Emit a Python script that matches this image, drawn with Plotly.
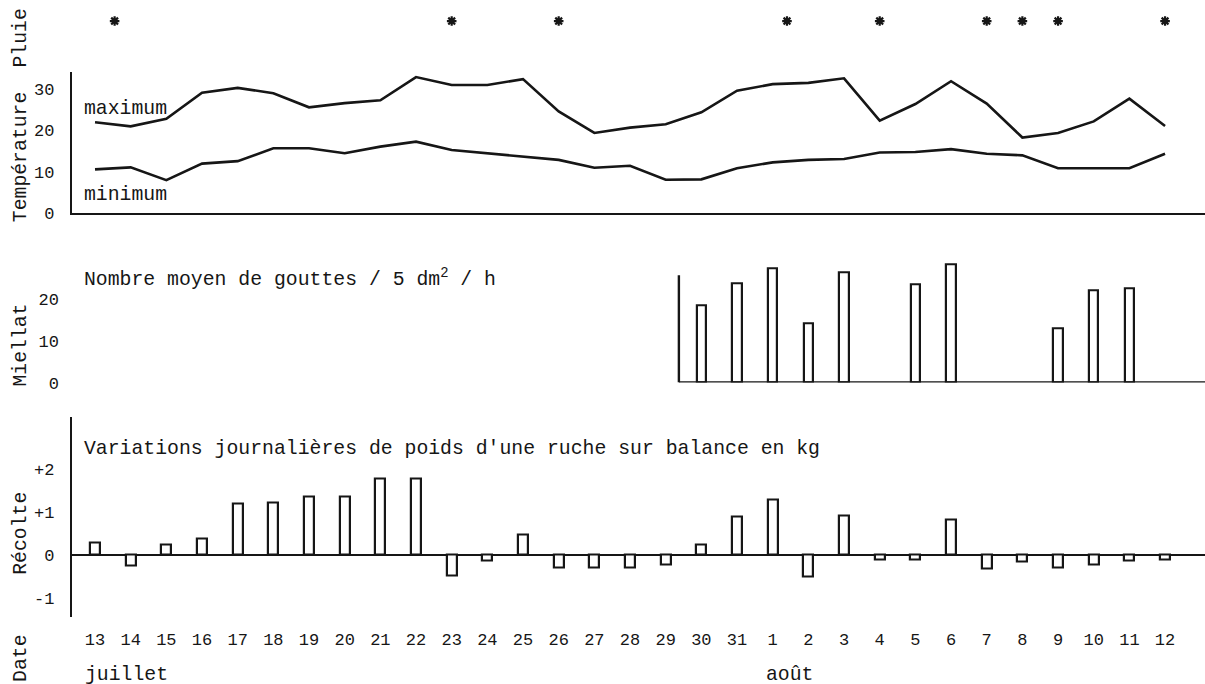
import plotly.graph_objects as go

# ---------------- data ----------------
day_labels = ["13", "14", "15", "16", "17", "18", "19", "20", "21", "22", "23", "24",
              "25", "26", "27", "28", "29", "30", "31",
              "1", "2", "3", "4", "5", "6", "7", "8", "9", "10", "11", "12"]
day_idx = list(range(len(day_labels)))

temp_max = [22.0, 21.0, 22.8, 29.1, 30.3, 29.0, 25.6, 26.6, 27.3, 32.9, 31.0, 31.0,
            32.4, 24.6, 19.4, 20.7, 21.5, 24.4, 29.6,
            31.2, 31.5, 32.6, 22.4, 26.4, 31.9, 26.5, 18.3, 19.4, 22.2, 27.7, 21.1]
temp_min = [10.6, 11.1, 8.0, 12.0, 12.6, 15.7, 15.7, 14.5, 16.1, 17.3, 15.3, 14.5,
            13.7, 12.9, 11.0, 11.5, 8.1, 8.2, 10.9,
            12.3, 12.9, 13.1, 14.7, 14.8, 15.5, 14.4, 14.0, 10.9, 10.9, 10.9, 14.4]

# rain days (position on the day axis, as drawn in the original)
rain_pos = [0.55, 10, 13, 19.4, 22, 25, 26, 27, 30]

# honeydew (mean number of drops / 5 dm2 / h)
miellat_idx = [17, 18, 19, 20, 21, 23, 24, 27, 28, 29]
miellat_val = [18.6, 23.9, 27.5, 14.2, 26.5, 23.7, 28.4, 13.0, 22.3, 22.6]
miellat_axis_start = 16.37

# daily weight change of a hive (kg)
recolte = [0.29, -0.26, 0.25, 0.37, 1.19, 1.21, 1.35, 1.37, 1.78, 1.79, -0.48, -0.14,
           0.47, -0.30, -0.29, -0.29, -0.22, 0.25, 0.89,
           1.29, -0.52, 0.91, -0.12, -0.12, 0.83, -0.33, -0.16, -0.30, -0.22, -0.14, -0.12]

# ---------------- layout helpers ----------------
W, H = 1205, 696
REF_H = 684
FONT = "Liberation Mono"
INK = "#161616"


def px(x):
    return x / W


def py(y):
    # y given in reference pixels (0..684 from top)
    return 1 - y / REF_H


xdom = [px(72), 1.0]
xrange_ = [-0.645, 31.12]

fig = go.Figure()

# rain
fig.add_trace(go.Scatter(x=rain_pos, y=[0.5] * len(rain_pos), mode="markers",
                         marker=dict(symbol="asterisk-open", size=8, color=INK,
                                     line=dict(width=2.2, color=INK)),
                         xaxis="x4", yaxis="y4", showlegend=False))

# temperatures
for vals in (temp_max, temp_min):
    fig.add_trace(go.Scatter(x=day_idx, y=vals, mode="lines",
                             line=dict(color=INK, width=2.6),
                             xaxis="x", yaxis="y", showlegend=False))

# miellat
fig.add_trace(go.Bar(x=miellat_idx, y=miellat_val, width=0.26,
                     marker=dict(color="white", line=dict(color=INK, width=2.2)),
                     xaxis="x2", yaxis="y2", showlegend=False))

# recolte
fig.add_trace(go.Bar(x=day_idx, y=recolte, width=0.28,
                     marker=dict(color="white", line=dict(color=INK, width=2.2)),
                     xaxis="x3", yaxis="y3", showlegend=False))

tickfont = dict(family=FONT, size=17, color=INK)
common_x = dict(domain=xdom, range=xrange_, showgrid=False, zeroline=False,
                showticklabels=False, ticks="", fixedrange=True)

fig.update_layout(
    width=W, height=H, autosize=False,
    margin=dict(l=0, r=0, t=0, b=0, pad=0),
    paper_bgcolor="white", plot_bgcolor="white",
    bargap=0,
    xaxis=dict(common_x, anchor="y", showline=True, linecolor=INK, linewidth=2.4),
    yaxis=dict(domain=[py(213), py(72)], range=[0, 34.1], anchor="x",
               showline=True, linecolor=INK, linewidth=2.4, showgrid=False,
               zeroline=False, tickvals=[0, 10, 20, 30], ticks="",
               tickfont=tickfont, ticklabelstandoff=12),
    xaxis4=dict(common_x, anchor="y4"),
    yaxis4=dict(domain=[py(32), py(10)], range=[0, 1], anchor="x4", visible=False),
    xaxis2=dict(common_x, anchor="y2"),
    yaxis2=dict(domain=[py(382), py(255)], range=[0, 30.6], anchor="x2",
                showline=False, showgrid=False, zeroline=False,
                tickvals=[0, 10, 20], ticks="", tickfont=tickfont,
                ticklabelstandoff=12),
    xaxis3=dict(domain=xdom, range=xrange_, anchor="y3", showgrid=False,
                zeroline=False, showline=False, ticks="",
                tickvals=day_idx, ticktext=day_labels, tickfont=tickfont,
                ticklabelstandoff=10),
    yaxis3=dict(domain=[py(616), py(416)], range=[-1.45, 3.23], anchor="x3",
                showline=True, linecolor=INK, linewidth=2.4, showgrid=False,
                zeroline=True, zerolinecolor=INK, zerolinewidth=2.4,
                tickvals=[-1, 0, 1, 2], ticktext=["-1", "0", "+1", "+2"],
                ticks="", tickfont=tickfont, ticklabelstandoff=12),
)

# miellat axis lines (start where observations begin)
fig.add_shape(type="line", xref="x2", yref="y2", x0=miellat_axis_start,
              x1=miellat_axis_start, y0=0, y1=25.8,
              line=dict(color=INK, width=2.4))
fig.add_shape(type="line", xref="x2", yref="y2", x0=miellat_axis_start,
              x1=xrange_[1], y0=0, y1=0, line=dict(color=INK, width=2.4))

txt = dict(family=FONT, size=19.8, color=INK)


def note(text, x, y, xanchor="left", yanchor="middle", angle=0, font=txt):
    fig.add_annotation(text=text, x=px(x), y=py(y), xref="paper", yref="paper",
                       xanchor=xanchor, yanchor=yanchor, showarrow=False,
                       textangle=angle, font=font)


# vertical panel labels
note("Pluie", 21, 7, xanchor="center", yanchor="top", angle=-90)
for label, yc in [("Température", 157), ("Miellat", 345),
                  ("Récolte", 533), ("Date", 658)]:
    note(label, 21, yc, xanchor="center", angle=-90)

note("maximum", 82, 109)
note("minimum", 82, 195)
note("Nombre moyen de gouttes / 5 dm<sup>2</sup> / h", 82, 278)
note("Variations journalières de poids d'une ruche sur balance en kg", 82, 448)
note("juillet", 83, 674)
note("août", 789, 674, xanchor="center")

page_fix = (
    "var s=document.documentElement.style;s.margin='0';s.padding='0';s.overflow='hidden';"
    "var b=document.body.style;b.margin='0';b.padding='0';b.overflow='hidden';"
)

fig.write_html("out.html",
               config={"displayModeBar": False, "responsive": False},
               post_script=page_fix)
